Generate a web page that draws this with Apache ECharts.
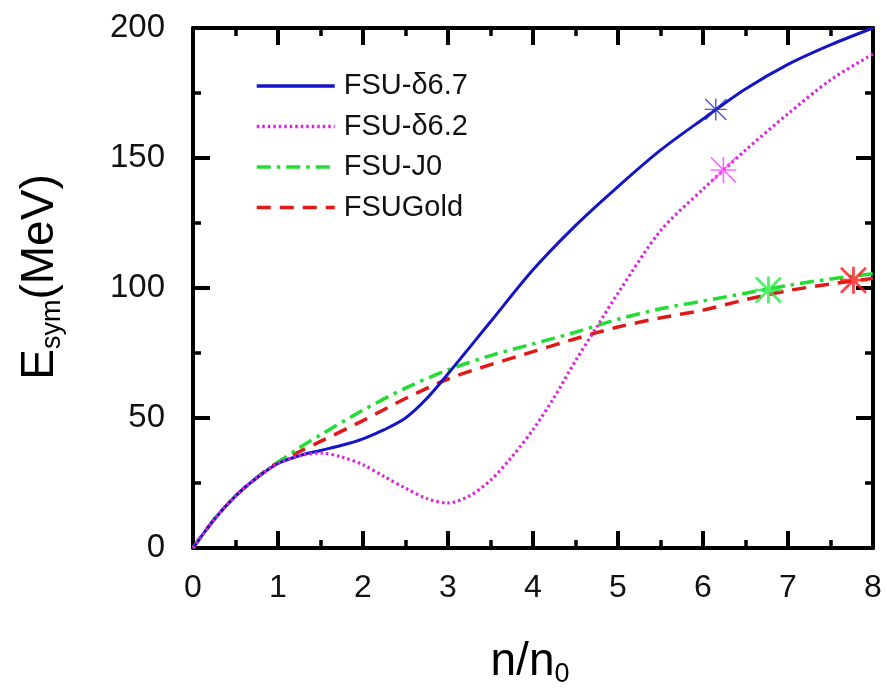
<!DOCTYPE html>
<html>
<head>
<meta charset="utf-8">
<script src="https://cdn.jsdelivr.net/npm/echarts@6/dist/echarts.min.js"></script>
<style>html,body{margin:0;padding:0;background:#fff}#c{width:887px;height:690px}</style>
</head>
<body>
<div id="c"></div>
<script>
// ---- data ----
const seriesNames = ['FSU-δ6.7', 'FSU-δ6.2', 'FSU-J0', 'FSUGold'];

const nBlue = [0, 0.25, 0.5, 0.75, 1, 1.25, 1.5, 1.75, 2, 2.25, 2.5, 2.75, 3, 3.5, 4, 4.5, 5, 5.5, 6, 6.5, 7, 7.5, 8];
const eBlue = [0, 11, 20, 27, 32.5, 35.5, 37.5, 39.5, 42, 45.5, 50, 57.5, 67, 87, 107, 124, 139, 153, 165, 176.5, 186, 193.5, 200];

const nMag = [0, 0.25, 0.5, 0.75, 1, 1.25, 1.5, 1.75, 2, 2.25, 2.5, 2.75, 3, 3.25, 3.5, 3.75, 4, 4.25, 4.5, 4.75, 5, 5.5, 6, 6.5, 7, 7.5, 8];
const eMag = [0, 11, 20, 27, 32.5, 35.5, 36.5, 35, 32, 27.5, 23, 19, 17.3, 20, 26, 35, 45.5, 58, 72, 85, 98, 122, 138, 153, 167, 180, 190];

const nGreen = [0, 0.25, 0.5, 0.75, 1, 1.25, 1.5, 2, 2.5, 3, 3.5, 4, 4.5, 5, 5.5, 6, 6.5, 7, 7.5, 8];
const eGreen = [0, 11, 20, 27, 33, 38.5, 43.5, 53, 61.5, 68.5, 74, 78.5, 83, 88, 92, 95, 98, 101, 103.5, 105.5];

const nRed = [0, 0.25, 0.5, 0.75, 1, 1.25, 1.5, 2, 2.5, 3, 3.5, 4, 4.5, 5, 5.5, 6, 6.5, 7, 7.5, 8];
const eRed = [0, 11, 20, 27, 33, 37, 41, 49, 57.5, 65, 70.5, 75.5, 80.5, 85, 88.5, 91.5, 95.5, 99, 101.5, 103.7];

// asterisk markers (one per model)
const starN = [6.15, 6.24, 6.77, 7.77];
const starE = [168.7, 145.4, 99.2, 103];

const xTicks = ['0', '1', '2', '3', '4', '5', '6', '7', '8'];
const yTicks = ['0', '50', '100', '150', '200'];

// ---- styles ----
const colors = ['#1414c8', '#dd22dd', '#22dd33', '#e01818'];
const starColors = ['#3030c0', '#ff44ff', '#22ee44', '#ff1a1a'];
const starSizes = [22, 26, 27, 27];
const FONT = 'Liberation Sans, Arial, sans-serif';

function thinStar(t) {
  const a = 12 - t / 2, b = 12 + t / 2;
  const d = t / Math.SQRT2;
  return 'path://' +
    `M${a} 0L${b} 0L${b} 24L${a} 24Z` +
    `M0 ${a}L24 ${a}L24 ${b}L0 ${b}Z` +
    `M0 ${d}L${d} 0L24 ${24 - d}L${24 - d} 24Z` +
    `M${24 - d} 0L24 ${d}L${d} 24L0 ${24 - d}Z`;
}
const starThick = [1.6, 1.5, 2.5, 2.5];

function pairs(xs, ys) { return xs.map((x, i) => [x, ys[i]]); }

const lineDefs = [
  { name: seriesNames[0], data: pairs(nBlue, eBlue), type: 'solid', width: 3, z: 4 },
  { name: seriesNames[1], data: pairs(nMag, eMag), type: [2.5, 3], width: 3.2, z: 5 },
  { name: seriesNames[2], data: pairs(nGreen, eGreen), type: [14, 6, 3.5, 6], width: 3.5, z: 3 },
  { name: seriesNames[3], data: pairs(nRed, eRed), type: [14, 9], width: 3.5, z: 2 }
];

const series = lineDefs.map((d, i) => ({
  name: d.name,
  type: 'line',
  data: d.data,
  smooth: 0.3,
  symbol: 'none',
  showSymbol: false,
  z: d.z,
  lineStyle: { color: colors[i], width: d.width, type: d.type, cap: 'butt' },
  itemStyle: { color: colors[i] }
}));

starN.forEach((n, i) => {
  series.push({
    type: 'scatter',
    data: [[n, starE[i]]],
    symbol: thinStar(starThick[i]),
    symbolSize: starSizes[i],
    itemStyle: { color: starColors[i] },
    z: 6,
    silent: true
  });
});

const axisCommon = {
  type: 'value',
  axisLine: { show: true, onZero: false, lineStyle: { color: '#000', width: 4 } },
  axisTick: { show: true, inside: true, length: 17, lineStyle: { color: '#000', width: 4 } },
  minorTick: { show: true, splitNumber: 2, length: 8, lineStyle: { color: '#000', width: 3.5 } },
  splitLine: { show: false },
  minorSplitLine: { show: false }
};

const option = {
  animation: false,
  backgroundColor: '#fff',
  grid: { left: 193, top: 28, right: 14, bottom: 142, containLabel: false },
  legend: {
    data: seriesNames,
    orient: 'vertical',
    left: 250,
    top: 66,
    itemWidth: 78,
    itemHeight: 14,
    itemGap: 10.5,
    itemStyle: { opacity: 0 },
    lineStyle: { width: 3.5 },
    textStyle: { fontFamily: FONT, fontSize: 29, color: '#111', lineHeight: 30, padding: [0, 0, 0, 4] },
    selectedMode: false
  },
  xAxis: [
    Object.assign({}, axisCommon, {
      position: 'bottom', min: 0, max: 8, interval: 1,
      axisLabel: {
        margin: 24, fontFamily: FONT, fontSize: 32, color: '#111',
        formatter: v => xTicks[Math.round(v)]
      }
    }),
    Object.assign({}, axisCommon, {
      position: 'top', min: 0, max: 8, interval: 1,
      axisLabel: { show: false }
    })
  ],
  yAxis: [
    Object.assign({}, axisCommon, {
      position: 'left', min: 0, max: 200, interval: 50,
      axisLabel: {
        margin: 28, fontFamily: FONT, fontSize: 33, color: '#111',
        formatter: v => yTicks[Math.round(v / 50)]
      }
    }),
    Object.assign({}, axisCommon, {
      position: 'right', min: 0, max: 200, interval: 50,
      axisLabel: { show: false }
    })
  ],
  graphic: [
    {
      type: 'text',
      x: 530, y: 662,
      style: {
        text: '{m|n/n}{s|0}',
        align: 'center', verticalAlign: 'middle',
        rich: {
          m: { fontFamily: FONT, fontSize: 46, color: '#111', lineHeight: 52 },
          s: { fontFamily: FONT, fontSize: 27, color: '#111', lineHeight: 26, verticalAlign: 'bottom' }
        }
      }
    },
    {
      type: 'text',
      x: 40, y: 277,
      rotation: Math.PI / 2,
      style: {
        text: '{m|E}{s|sym}{m|(MeV)}',
        align: 'center', verticalAlign: 'middle',
        rich: {
          m: { fontFamily: FONT, fontSize: 46, color: '#111', lineHeight: 52 },
          s: { fontFamily: FONT, fontSize: 27, color: '#111', lineHeight: 26, verticalAlign: 'bottom' }
        }
      }
    }
  ],
  series: series
};

const chart = echarts.init(document.getElementById('c'), null, { renderer: 'canvas' });
chart.setOption(option);
</script>
</body>
</html>
